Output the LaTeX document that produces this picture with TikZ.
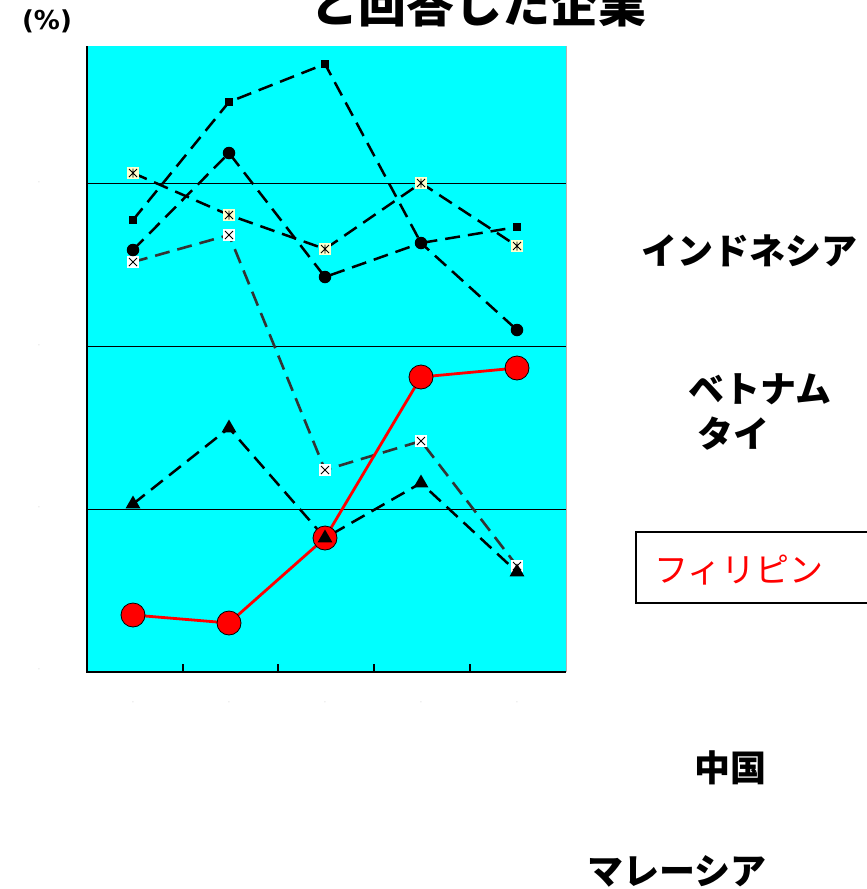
\documentclass[tikz,border=0pt]{standalone}
\usepackage{fontspec}
\setmainfont{Liberation Sans}
\newfontfamily\jpfont{Noto Sans CJK JP}
\newfontfamily\unitfont{DejaVu Sans}
\usetikzlibrary{shapes.geometric}

\definecolor{plotcyan}{RGB}{0,255,255}
\definecolor{astfill}{RGB}{255,255,204}
\definecolor{xline}{RGB}{51,51,51}

\begin{document}
\begin{tikzpicture}[x=1pt,y=-1pt,
  dashline/.style={black,line width=2.5pt,dash pattern=on 15pt off 8pt},
  grayline/.style={xline,line width=2.6pt,dash pattern=on 15pt off 8pt},
  redline/.style={red,line width=2.8pt},
  sqmark/.style={rectangle,fill=black,minimum size=8pt,inner sep=0pt},
  dotmark/.style={circle,fill=black,minimum size=12.5pt,inner sep=0pt},
  trimark/.style={regular polygon,regular polygon sides=3,fill=black,minimum size=17pt,inner sep=0pt},
  redmark/.style={circle,fill=red,draw=black,line width=0.8pt,minimum size=24pt,inner sep=0pt},
  xmark/.style={rectangle,fill=white,minimum size=12pt,inner sep=0pt,
    path picture={\draw[black,line width=0.9pt]
      ([xshift=2pt,yshift=2pt]path picture bounding box.south west) -- ([xshift=-2pt,yshift=-2pt]path picture bounding box.north east)
      ([xshift=2pt,yshift=-2pt]path picture bounding box.north west) -- ([xshift=-2pt,yshift=2pt]path picture bounding box.south east);}},
  astmark/.style={rectangle,fill=astfill,minimum size=12pt,inner sep=0pt,
    path picture={\draw[black,line width=0.9pt]
      ([xshift=2pt,yshift=2pt]path picture bounding box.south west) -- ([xshift=-2pt,yshift=-2pt]path picture bounding box.north east)
      ([xshift=2pt,yshift=-2pt]path picture bounding box.north west) -- ([xshift=-2pt,yshift=2pt]path picture bounding box.south east)
      ([yshift=-1.5pt]path picture bounding box.north) -- ([yshift=1.5pt]path picture bounding box.south);}},
  jplab/.style={font=\jpfont\bfseries\fontsize{36}{40}\selectfont,inner sep=0pt},
  ticklab/.style={font=\fontsize{4}{4}\selectfont,text=gray,inner sep=0pt}]

\clip (0,0) rectangle (867,889);

% title and unit
\node[font=\jpfont\bfseries\fontsize{48}{52}\selectfont,anchor=base,inner sep=0pt] (title) at (478,22) {と回答した企業};
\node[font=\unitfont\bfseries\fontsize{26}{28}\selectfont,inner sep=0pt] (unit) at (47,21) {(\%)};

% plot area
\fill[plotcyan] (87,46) rectangle (566,672);
\foreach \y in {183,346,509}
  \draw[line width=1pt] (87,\y) -- (566,\y);
\draw[gray!60,line width=1pt] (566,46) -- (566,672);
\draw[line width=1.5pt] (87,46) -- (87,672) -- (566,672);
\foreach \x in {183,278,374,470}
  \draw[line width=1.5pt] (\x,672) -- (\x,664);

% axis labels
\foreach \y in {183,346,508,670}
  \node[ticklab] (yl\y) at (39,\y) {-};
\foreach \x in {133,229,325,421,517}
  \node[ticklab] (xl\x) at (\x,703) {-};

% data points
\foreach \n/\x/\y in {1/133/220,2/229/102,3/325/64,4/421/243,5/517/227}
  \coordinate (sq\n) at (\x,\y);
\foreach \n/\x/\y in {1/133/250,2/229/153,3/325/277,4/421/243,5/517/330}
  \coordinate (dot\n) at (\x,\y);
\foreach \n/\x/\y in {1/133/173,2/229/215,3/325/249,4/421/183,5/517/246}
  \coordinate (ast\n) at (\x,\y);
\foreach \n/\x/\y in {1/133/262,2/229/235,3/325/470,4/421/441,5/517/566}
  \coordinate (xs\n) at (\x,\y);
\foreach \n/\x/\y in {1/133/504,2/229/428,3/325/538,4/421/483,5/517/572}
  \coordinate (tri\n) at (\x,\y);
\foreach \n/\x/\y in {1/133/615,2/229/623,3/325/538,4/421/377,5/517/368}
  \coordinate (red\n) at (\x,\y);

% lines
\draw[grayline] (xs1) -- (xs2) -- (xs3) -- (xs4) -- (xs5);
\draw[dashline] (ast1) -- (ast2) -- (ast3) -- (ast4) -- (ast5);
\draw[dashline] (sq1) -- (sq2) -- (sq3) -- (sq4) -- (sq5);
\draw[dashline] (dot1) -- (dot2) -- (dot3) -- (dot4) -- (dot5);
\draw[dashline] (tri1) -- (tri2) -- (tri3) -- (tri4) -- (tri5);
\draw[redline] (red1) -- (red2) -- (red3) -- (red4) -- (red5);

% markers
\foreach \n in {1,...,5} {
  \node[xmark] (mxs\n) at (xs\n) {};
  \node[astmark] (mast\n) at (ast\n) {};
  \node[sqmark] (msq\n) at (sq\n) {};
  \node[dotmark] (mdot\n) at (dot\n) {};
  \node[redmark] (mred\n) at (red\n) {};
  \node[trimark] (mtri\n) at (tri\n) {};
}

% country labels
\node[jplab] (lidn) at (749,251) {インドネシア};
\node[jplab] (lvnm) at (760,389) {ベトナム};
\node[jplab] (ltha) at (733,434) {タイ};
\draw[line width=1.5pt] (636,532) rectangle (875,603);
\node[font=\jpfont\fontsize{34}{38}\selectfont,text=red,anchor=west,inner sep=0pt] (lphl) at (654,570) {フィリピン};
\node[jplab] (lchn) at (730,768) {中国};
\node[jplab] (lmys) at (677,871) {マレーシア};
\end{tikzpicture}
\end{document}
